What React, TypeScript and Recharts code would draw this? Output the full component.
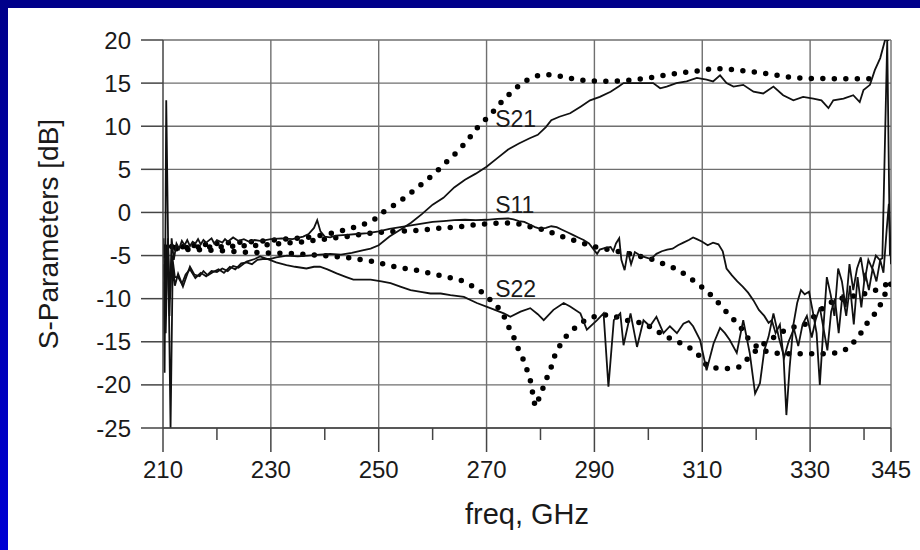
import { LineChart, Line, XAxis, YAxis, CartesianGrid, ReferenceLine, ReferenceDot, Label } from 'recharts'

type Pt = [number, number]

// axis ticks
const xTicks = [210, 230, 250, 270, 290, 310, 330, 345]
const xMinorTicks = [220, 240, 260, 280, 300, 320, 340]
const yTicks = [-25, -20, -15, -10, -5, 0, 5, 10, 15, 20]

// curve labels
const tagNames = ['S21', 'S11', 'S22']
const tagFreq = [271.6, 271.6, 271.6]
const tagVal = [10.9, 0.9, -8.9]

// simulated (dotted) curves, [freq GHz, dB]
const s21Sim: Pt[] = [
  [210.4, -5], [211, -4.2], [212, -3.8], [214, -4.0], [216, -3.8], [218, -3.7], [220, -3.6], [223, -3.5],
  [226, -3.4], [229, -3.3], [232, -3.1], [235, -3.0], [238, -2.8], [240, -2.6], [242, -2.3], [244, -2.0],
  [246, -1.6], [248, -1.2], [249.5, -0.7], [251, 0.1], [253, 0.9], [255, 1.8], [257, 2.8], [259, 3.8],
  [261, 4.9], [263, 6.1], [265, 7.3], [267, 8.8], [268.5, 10], [270.7, 11.3], [272.9, 12.9], [275, 14.2],
  [277, 15.2], [279, 15.8], [281, 16], [283, 15.9], [285, 15.6], [287, 15.4], [289, 15.25], [293, 15.2],
  [297, 15.35], [300, 15.6], [303, 15.9], [306, 16.2], [309, 16.4], [312, 16.7], [315, 16.6], [318, 16.4],
  [321, 16.2], [324, 15.9], [327, 15.6], [330, 15.55], [335, 15.5], [340, 15.5], [343, 15.5],
]

const s11Sim: Pt[] = [
  [210.4, -4.5], [211.5, -4], [213, -4.1], [216, -4.0], [220, -4.0], [224, -3.9], [228, -3.8], [232, -3.6],
  [236, -3.4], [240, -3.1], [244, -2.8], [247, -2.5], [250, -2.3], [253, -2.2], [257, -2.1], [261, -1.85],
  [265, -1.65], [269, -1.35], [273, -1.2], [275, -1.25], [277, -1.45], [279, -1.85], [281, -2.0], [283, -2.6],
  [285, -3.0], [287, -3.4], [289, -3.8], [291, -4.15], [293, -4.35], [295, -4.6], [298, -5.0], [301, -5.5],
  [303, -6.0], [305, -6.5], [307, -7.25], [309, -8.2], [311, -9.2], [313, -10.5], [315, -11.9], [317, -13.2],
  [318.5, -14.6], [320.7, -15.9], [323, -16.3], [326, -16.4], [329, -16.4], [332, -16.4], [335, -16.3],
  [337, -15.8], [339, -14.4], [340.5, -12.9], [342.6, -11.3], [344.5, -8.6], [345, -8.3],
]

const s22Sim: Pt[] = [
  [210.4, -4], [212, -4.2], [215, -4.3], [220, -4.4], [225, -4.6], [230, -4.7], [235, -4.8], [240, -5.0],
  [245, -5.3], [249, -5.7], [253, -6.3], [257, -6.7], [261, -7.25], [265, -7.8], [267, -8.4], [269, -9.2],
  [270.7, -10.15], [272.9, -11.5], [273.8, -12.9], [275, -14.4], [276, -16], [277, -17.3], [278.1, -19.4],
  [279, -22.5], [280, -21.2], [280.9, -19.6], [281.8, -18.3], [282.8, -16.3], [284, -15], [285.2, -14],
  [286.8, -13.2], [288.3, -12.5], [289.9, -12.1], [291.7, -11.9], [293, -11.9], [295, -12.3], [297, -12.7],
  [299, -12.8], [301, -13.5], [303, -14.3], [305, -14.9], [307, -15.4], [309, -16.3], [311, -17.9],
  [313, -18.1], [315, -18.1], [317, -17.9], [319, -16.6], [321, -15.4], [323, -14.6], [325, -13.8],
  [327, -13.3], [329, -13.0], [331, -11.9], [333, -10.7], [335, -10.1], [337, -9.8], [339, -9.6],
  [341, -9.3], [343, -8.8], [345, -8.0],
]

// measured (solid) curves
const s21Meas: Pt[] = [
  [210.1, -8], [210.3, -18.6], [210.6, 13], [211.4, -25], [211.8, -6], [212.2, -8.5], [212.8, -7.1],
  [213.7, -8.6], [214.3, -7.5], [215, -6.3], [215.8, -7.2], [216.8, -7.4], [217.5, -6.8], [218.3, -7.3],
  [219.3, -6.9], [220.3, -6.6], [221.3, -7.0], [222.4, -6.3], [223.4, -6.6], [224.5, -5.9], [225.5, -5.8],
  [226.5, -6.0], [227.5, -5.5], [228.5, -5.4], [229.8, -5.4], [231, -5.2], [233, -5.0], [235, -5.1],
  [237, -5.0], [239, -4.9], [241, -4.8], [243, -4.9], [245, -4.7], [247, -4.4], [248.5, -4.2], [250, -3.8],
  [252, -2.8], [254, -2.0], [256, -1.2], [258, -0.2], [260, 0.9], [262, 1.7], [264, 2.9], [266, 3.8],
  [268, 4.5], [270, 5.3], [272, 6.3], [274, 7.3], [276, 8.0], [278, 8.6], [279.5, 9.0], [281, 9.9],
  [282, 10.7], [283.5, 11.1], [285.5, 11.5], [287.5, 12.3], [289.2, 13.0], [291, 13.4], [293, 14.0],
  [294.5, 14.6], [295.4, 15.0], [297.9, 15.0], [300.9, 15.0], [302.2, 14.4], [303.4, 14.6], [305.2, 15],
  [307.1, 15.2], [309, 15.6], [310.8, 15.4], [312, 15.2], [313.3, 15.9], [314.5, 15], [315.8, 14.6],
  [317.6, 14.8], [319.5, 14.0], [321.3, 13.8], [323.2, 14.6], [325, 13.6], [326.9, 13.0], [328.7, 13.4],
  [330.6, 13.2], [332.1, 13.0], [333.4, 12.1], [334.3, 13.0], [336.2, 13.2], [338, 13.6], [339.2, 12.8],
  [339.9, 14.2], [341.1, 14.8], [342, 16.5], [343, 17.9], [343.9, 20], [344.6, 20],
]

const s11Meas: Pt[] = [
  [210.1, -3], [210.4, -11], [210.8, -4], [211.2, -12], [211.6, -3], [212, -5.5], [212.5, -3.6], [213, -4.2],
  [213.5, -3.3], [214, -3.8], [214.5, -3.2], [215, -3.9], [215.5, -3.4], [216, -3.6], [216.5, -3.1],
  [217, -3.7], [217.5, -3.2], [218, -3.5], [219, -3.0], [219.5, -3.6], [220, -3.2], [221, -3.5], [221.5, -3.1],
  [222, -3.4], [223, -2.9], [224, -3.3], [225, -3.1], [226, -3.4], [227, -3.2], [228, -3.3], [229, -3.2],
  [230, -3.1], [232, -3.0], [234, -3.1], [236, -2.8], [237, -2.5], [238, -1.8], [238.6, -0.9], [239.2, -2.2],
  [240, -2.8], [241, -2.9], [242, -2.7], [244, -2.6], [246, -2.5], [248, -2.4], [250, -2.2], [252, -1.9],
  [254, -1.7], [256, -1.5], [258, -1.3], [260, -1.1], [262, -1.0], [264, -0.9], [266, -0.85], [268, -0.9],
  [270, -0.85], [272, -0.75], [274, -0.7], [275, -0.8], [276, -1.0], [277, -1.1], [278, -1.4], [279, -1.7],
  [280, -1.9], [281, -1.8], [282, -1.6], [283, -1.7], [284, -2.0], [285, -2.3], [286, -2.6], [287, -2.9],
  [288, -3.2], [289, -3.6], [290, -4.4], [290.5, -4.8], [291, -4.3], [292, -4.1], [293, -4.0], [293.5, -4.5],
  [294, -3.6], [294.6, -3.0], [295, -5.5], [295.6, -6.7], [296.2, -4.5], [296.8, -6.0], [297.5, -4.6],
  [298.5, -5.0], [299.5, -5.2], [300.5, -5.4], [301.5, -4.8], [302.5, -4.5], [303.5, -4.3], [304.5, -4.2],
  [305.5, -3.8], [306.5, -3.5], [307.5, -3.2], [308.3, -2.9], [309, -3.1], [310, -3.4], [311, -3.8],
  [312, -3.5], [313, -3.7], [313.8, -4.5], [314.5, -6.5], [315.5, -7.3], [316.5, -8.0], [317.5, -8.6],
  [318.5, -9.3], [319.5, -10.2], [320.5, -11.3], [321.5, -12.0], [322.3, -12.8], [322.9, -12.5],
  [323.6, -14], [324.4, -13], [325.1, -17], [325.6, -23.5], [326.2, -18], [326.9, -13], [327.6, -10.5],
  [328.3, -9], [329, -9.5], [329.8, -9.2], [330.5, -11.5], [331.2, -14], [331.8, -20], [332.4, -14],
  [333.1, -7.5], [333.8, -9.5], [334.5, -12], [335.2, -6.5], [335.9, -8], [336.6, -11], [337.3, -6],
  [338, -9], [338.7, -6.5], [339.4, -5.2], [340.1, -8], [340.8, -5.5], [341.5, -6.5], [342.2, -5],
  [342.9, -5.5], [343.4, -5.3], [344.3, 20], [344.8, -5],
]

const s22Meas: Pt[] = [
  [210.1, -6], [210.5, -14], [210.9, -3], [211.3, -10], [211.7, -5], [212.2, -7.5], [212.8, -7.5],
  [213.5, -8.3], [214.2, -7.2], [215, -6.6], [216, -7.6], [217, -7.0], [218, -7.4], [219, -6.8], [220, -6.9],
  [221, -6.5], [222, -6.8], [223, -6.2], [224, -6.4], [225.5, -5.7], [227, -5.4], [228, -5.1], [229.8, -5.5],
  [231, -5.8], [232.9, -6.1], [234.5, -6.3], [236.6, -6.5], [238, -6.3], [239.1, -6.3], [240.5, -6.6],
  [242.2, -7.06], [244, -7.5], [245.3, -7.8], [247, -7.8], [248.5, -7.8], [250.5, -8.0], [252.2, -8.2],
  [254, -8.6], [255.9, -9.0], [257.8, -9.2], [259.6, -9.4], [261.5, -9.4], [263.3, -9.6], [265.8, -9.8],
  [268.2, -10.5], [270.7, -11.1], [273.2, -11.7], [274.4, -12.1], [276.3, -11.5], [278.1, -11.1],
  [279.5, -11.8], [280.6, -12.5], [282.4, -11.3], [284.3, -10.5], [285.5, -10.9], [287.4, -11.7],
  [288.6, -13.6], [290.5, -12.5], [291.7, -11.7], [292.6, -20.2], [293.6, -12.5], [294.8, -11.7],
  [295.4, -15.4], [296.7, -11.7], [297.9, -15.6], [299.1, -12.5], [300.3, -13.2], [301.5, -12.1],
  [302.8, -14.0], [304, -13.2], [305.3, -14.0], [306.5, -12.9], [307.5, -12.6], [308.3, -13.2],
  [309.6, -14.8], [310.8, -18.3], [312.1, -15.2], [313.3, -13.4], [314.2, -14], [315.1, -14.8],
  [316.4, -16.3], [317.6, -12.5], [318.8, -16.3], [319.8, -21], [320.7, -19.8], [321.5, -16],
  [322.3, -14.4], [323.2, -11.7], [324.2, -14.5], [325.2, -16.8], [326, -15], [327, -13.5], [327.8, -15.5],
  [328.6, -13], [329.4, -12], [330.3, -14.5], [331, -12.5], [331.8, -11], [332.5, -13.5], [333.2, -16],
  [333.9, -11.5], [334.6, -10], [335.3, -14], [336, -9.5], [336.7, -12], [337.4, -8.5], [338.1, -13],
  [338.8, -7.5], [339.5, -11], [340.2, -7], [340.9, -9], [341.6, -6.5], [342.3, -8], [343, -5.5],
  [343.6, -7], [344.2, -2], [344.6, 1], [345, -6],
]

const rows = (pts: Pt[]) => pts.map(([f, v]) => ({ f, v }))

const FONT = '"Liberation Sans", Arial, Helvetica, sans-serif'
const INK = '#1a1a1a'
const GRID = '#6f6f6f'

const XTick = ({ x, y, payload }: any) => {
  const major = xTicks.includes(payload.value)
  return (
    <g>
      <line x1={x} x2={x} y1={y} y2={y + (major ? 24 : 12)} stroke="#444" strokeWidth={1.5} />
      {major && (
        <text x={x} y={y + 50} textAnchor="middle" fontSize={24} fill={INK} fontFamily={FONT}>
          {payload.value}
        </text>
      )}
    </g>
  )
}

const YTitle = ({ viewBox }: any) => {
  const cx = viewBox.x + 48
  const cy = viewBox.y + viewBox.height / 2
  return (
    <text x={cx} y={cy} transform={`rotate(-90 ${cx} ${cy})`} textAnchor="middle" dominantBaseline="central"
      fontSize={28} fill={INK} fontFamily={FONT}>
      S-Parameters [dB]
    </text>
  )
}

const XTitle = ({ viewBox }: any) => {
  const cx = viewBox.x + viewBox.width / 2
  return (
    <text x={cx} y={viewBox.y + 96} textAnchor="middle" fontSize={29} fill={INK} fontFamily={FONT}>
      freq, GHz
    </text>
  )
}

const dotted = { stroke: '#000', strokeWidth: 5.5, strokeDasharray: '0 11.5', strokeLinecap: 'round' as const }
const solid = { stroke: '#111', strokeWidth: 1.8 }

export default function App() {
  return (
    <div style={{ position: 'absolute', left: 0, top: 0, width: 920, height: 550, background: '#fff', overflow: 'hidden' }}>
      <div style={{ position: 'absolute', left: 0, top: 0, width: 920, height: 8, background: '#00008a' }} />
      <div style={{ position: 'absolute', left: 0, top: 0, width: 8, height: 550, background: 'linear-gradient(to bottom, #00008a, #0000d4)' }} />
      <div style={{ position: 'absolute', left: 0, top: 0 }}>
        <LineChart width={920} height={550} margin={{ top: 40, right: 29, left: 0, bottom: 0 }} style={{ fontFamily: FONT }}>
          <CartesianGrid vertical={false} stroke={GRID} strokeWidth={1.4} />
          <XAxis
            dataKey="f"
            type="number"
            domain={[210, 345]}
            ticks={[...xTicks, ...xMinorTicks].sort((a, b) => a - b)}
            interval={0}
            allowDataOverflow
            height={122}
            tickSize={0}
            tickMargin={0}
            tickLine={false}
            axisLine={{ stroke: '#444', strokeWidth: 1.5 }}
            tick={<XTick />}
          >
            <Label content={<XTitle />} />
          </XAxis>
          <YAxis
            type="number"
            domain={[-25, 20]}
            ticks={yTicks}
            interval={0}
            allowDataOverflow
            width={163}
            tickSize={22}
            tickMargin={10}
            tickLine={{ stroke: '#444', strokeWidth: 1.5 }}
            axisLine={{ stroke: '#444', strokeWidth: 1.5 }}
            tick={{ fill: INK, fontSize: 24 }}
          >
            <Label content={<YTitle />} />
          </YAxis>
          {xTicks.slice(1).map((t) => (
            <ReferenceLine key={t} x={t} stroke={GRID} strokeWidth={1.4} />
          ))}
          <Line data={rows(s21Sim)} dataKey="v" type="linear" dot={false} activeDot={false} isAnimationActive={false} {...dotted} />
          <Line data={rows(s11Sim)} dataKey="v" type="linear" dot={false} activeDot={false} isAnimationActive={false} {...dotted} />
          <Line data={rows(s22Sim)} dataKey="v" type="linear" dot={false} activeDot={false} isAnimationActive={false} {...dotted} />
          <Line data={rows(s21Meas)} dataKey="v" type="linear" dot={false} activeDot={false} isAnimationActive={false} {...solid} />
          <Line data={rows(s11Meas)} dataKey="v" type="linear" dot={false} activeDot={false} isAnimationActive={false} {...solid} />
          <Line data={rows(s22Meas)} dataKey="v" type="linear" dot={false} activeDot={false} isAnimationActive={false} {...solid} />
          {tagNames.map((n, i) => (
            <ReferenceDot key={n} x={tagFreq[i]} y={tagVal[i]} r={0} fill="none" stroke="none"
              label={{ value: n, position: 'right', offset: 0, fontSize: 23, fill: INK }} />
          ))}
        </LineChart>
      </div>
    </div>
  )
}
